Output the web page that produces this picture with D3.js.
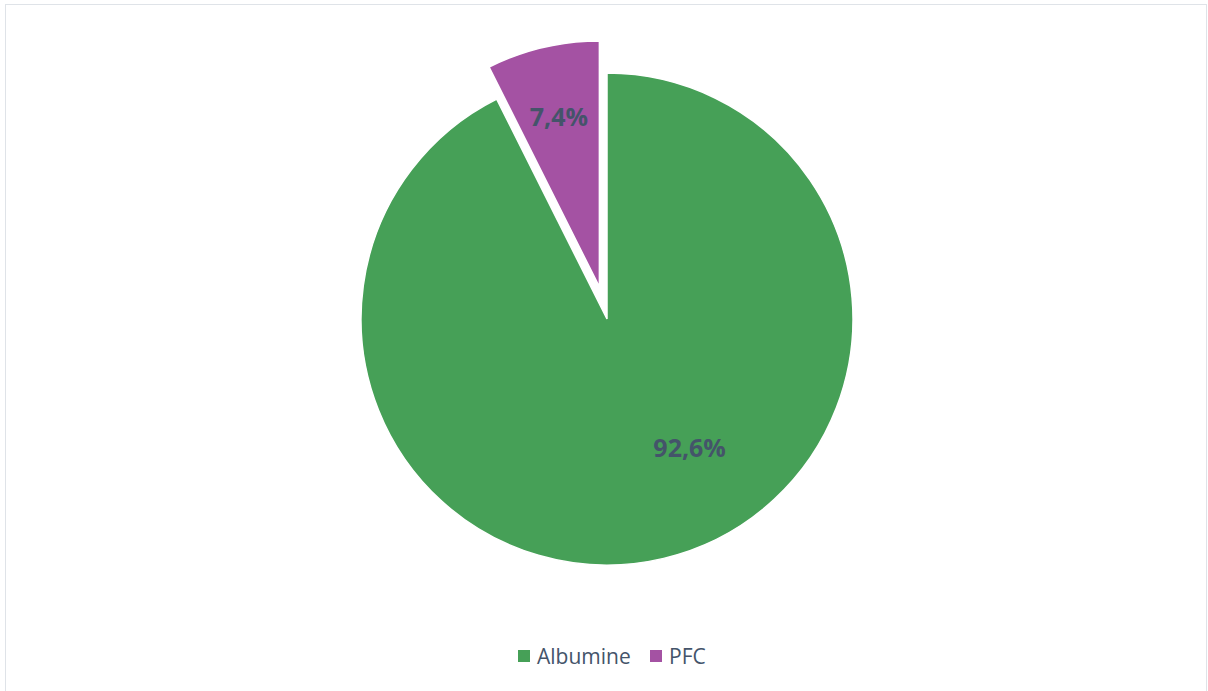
<!DOCTYPE html>
<html>
<head>
<meta charset="utf-8">
<script src="https://cdn.jsdelivr.net/npm/d3@7"></script>
<style>
  html, body { margin: 0; padding: 0; background: #fff; }
  svg { display: block; }
</style>
</head>
<body>
<svg id="chart" width="1208" height="691"></svg>
<script>
// Répartition des produits
const categories = ["Albumine", "PFC"];
const values = [92.6, 7.4];
const valueLabels = ["92,6%", "7,4%"];
const colors = ["#46a057", "#a452a3"];

const width = 1208, height = 691;
const cx = 607, cy = 319, radius = 246;
const explode = [0, 33];              // slice offset along its mid angle
const labelRadius = [0.62, 0.715];    // label distance as share of radius
const labelAngleShift = [-0.34, 0];   // label angle shift (radians)
const fontFamily = "'Open Sans', Lato, sans-serif";

const svg = d3.select("#chart");

// chart frame
svg.append("rect")
  .attr("x", 5.5).attr("y", 4.5)
  .attr("width", 1201).attr("height", 690)
  .attr("fill", "#fff")
  .attr("stroke", "#dfe3e8").attr("stroke-width", 1);

const pie = d3.pie().sort(null).value(d => d)(values);
const arc = d3.arc().innerRadius(0).outerRadius(radius);

const g = svg.append("g").attr("transform", `translate(${cx},${cy})`);

const slices = g.selectAll("g.slice").data(pie).enter().append("g")
  .attr("class", "slice")
  .attr("transform", (d, i) => {
    const a = (d.startAngle + d.endAngle) / 2;
    return `translate(${Math.sin(a) * explode[i]},${-Math.cos(a) * explode[i]})`;
  });

slices.append("path")
  .attr("d", arc)
  .attr("fill", (d, i) => colors[i])
  .attr("stroke", "#fff")
  .attr("stroke-width", 1.5);

slices.append("text")
  .attr("x", (d, i) => Math.sin((d.startAngle + d.endAngle) / 2 + labelAngleShift[i]) * radius * labelRadius[i])
  .attr("y", (d, i) => -Math.cos((d.startAngle + d.endAngle) / 2 + labelAngleShift[i]) * radius * labelRadius[i])
  .attr("text-anchor", "middle")
  .attr("dominant-baseline", "central")
  .attr("font-family", fontFamily)
  .attr("font-weight", "bold")
  .attr("font-size", 25)
  .attr("fill", "#44546a")
  .text((d, i) => valueLabels[i]);

// legend
const legend = svg.append("g").attr("transform", "translate(518,656)");
const legendX = [0, 132];
const items = legend.selectAll("g").data(categories).enter().append("g")
  .attr("transform", (d, i) => `translate(${legendX[i]},0)`);
items.append("rect")
  .attr("x", 0).attr("y", -6).attr("width", 12).attr("height", 12)
  .attr("fill", (d, i) => colors[i]);
items.append("text")
  .attr("x", 19).attr("y", 0)
  .attr("dominant-baseline", "central")
  .attr("font-family", fontFamily)
  .attr("font-size", 21)
  .attr("fill", "#44546a")
  .text(d => d);
</script>
</body>
</html>
